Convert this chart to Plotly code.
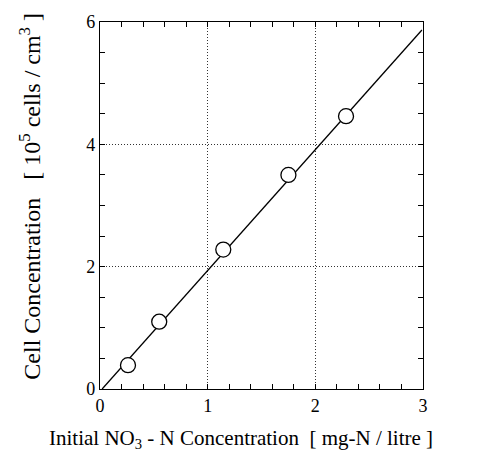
import plotly.graph_objects as go

# Data
nitrate = [0.26, 0.55, 1.145, 1.75, 2.285]
cells = [0.39, 1.10, 2.28, 3.50, 4.46]
fit_x = [0.02, 2.99]
fit_y = [0.0, 5.87]
x_ticks = [0, 1, 2, 3]
y_ticks = [0, 2, 4, 6]
x_title = "Initial NO<sub>3</sub> - N Concentration  [ mg-N / litre ]"
y_title = "Cell Concentration   [ 10<sup>5</sup> cells / cm<sup>3</sup> ]"

FONT = "Liberation Serif, Times New Roman, serif"

fig = go.Figure()
fig.add_trace(go.Scatter(x=fit_x, y=fit_y, mode="lines",
                         line=dict(color="black", width=1.3), showlegend=False))
fig.add_trace(go.Scatter(x=nitrate, y=cells, mode="markers",
                         marker=dict(size=15, color="white",
                                     line=dict(color="black", width=1.3)),
                         showlegend=False))

axis_common = dict(
    showline=True, linecolor="black", linewidth=1.3, mirror="allticks",
    ticks="inside", ticklen=5, tickwidth=1, tickcolor="black",
    showgrid=True, gridcolor="#333333", griddash="1px,2px", gridwidth=1,
    zeroline=False, tickfont=dict(family=FONT, size=18, color="black"),
    minor=dict(ticks="inside", ticklen=5, tickcolor="black", tickwidth=1, showgrid=False),
)

fig.update_xaxes(range=[0, 3], tickvals=x_ticks, ticktext=[str(v) for v in x_ticks],
                 minor_dtick=0.2, **axis_common)
fig.update_yaxes(range=[0, 6], tickvals=y_ticks, ticktext=[str(v) for v in y_ticks],
                 minor_dtick=0.5, **axis_common)

fig.add_annotation(text=x_title, xref="paper", yref="paper", x=0.4365, y=-0.136,
                   xanchor="center", yanchor="middle", showarrow=False,
                   font=dict(family=FONT, size=21, color="black"))
fig.add_annotation(text=y_title, xref="paper", yref="paper", x=-0.2167, y=0.524,
                   xanchor="center", yanchor="middle", showarrow=False, textangle=-90,
                   font=dict(family=FONT, size=24, color="black"))

fig.update_layout(width=484, height=462, margin=dict(l=100, r=61, t=15, b=73),
                  plot_bgcolor="white", paper_bgcolor="white")

fig.write_html("out.html")
